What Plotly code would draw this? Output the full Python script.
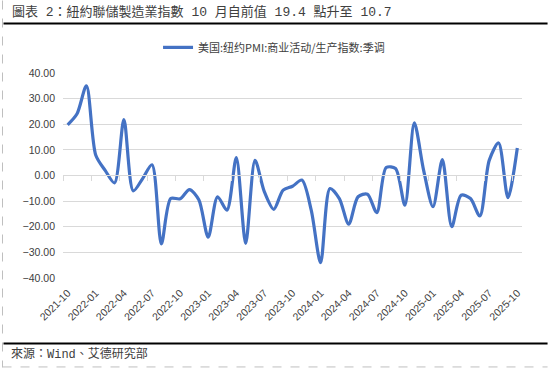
import plotly.graph_objects as go

months = ["2021-10", "2021-11", "2021-12",
          "2022-01", "2022-02", "2022-03", "2022-04", "2022-05", "2022-06",
          "2022-07", "2022-08", "2022-09", "2022-10", "2022-11", "2022-12",
          "2023-01", "2023-02", "2023-03", "2023-04", "2023-05", "2023-06",
          "2023-07", "2023-08", "2023-09", "2023-10", "2023-11", "2023-12",
          "2024-01", "2024-02", "2024-03", "2024-04", "2024-05", "2024-06",
          "2024-07", "2024-08", "2024-09", "2024-10", "2024-11", "2024-12",
          "2025-01", "2025-02", "2025-03", "2025-04", "2025-05", "2025-06",
          "2025-07", "2025-08", "2025-09", "2025-10"]
values = [19.8, 24.1, 35.0,
          7.9, 2.0, -2.9, 21.8, -6.0, -1.2,
          4.2, -26.7, -9.0, -9.1, -5.5, -9.5,
          -24.1, -8.3, -13.5, 7.0, -26.5, 5.9,
          -6.4, -13.2, -5.7, -4.2, -1.8, -13.5,
          -34.0, -5.1, -9.0, -19.0, -8.3, -7.3,
          -14.5, 3.1, 2.7, -11.6, 20.5, 2.0,
          -12.2, 6.2, -20.0, -7.7, -9.0, -15.8,
          5.9, 12.7, -8.6, 10.7]
series_name = "美国:纽约PMI:商业活动/生产指数:季调"
title_text = "圖表 2：紐約聯儲製造業指數 10 月自前值 19.4 點升至 10.7"
source_text = "來源：Wind、艾德研究部"
y_ticks = [40, 30, 20, 10, 0, -10, -20, -30, -40]

W, H = 548, 369
L, R, T, B = 62.6, 25.6, 72.7, 90.7
PW, PH = W - L - R, H - T - B

def px(x):
    return (x - L) / PW

def py(y):
    return 1 - (y - T) / PH

idx = list(range(len(months)))
label_idx = idx[::3]

fig = go.Figure()
fig.add_trace(go.Scatter(
    x=idx, y=values, mode="lines", name=series_name,
    line=dict(color="#4472C4", width=3.2, shape="spline", smoothing=0.8),
    hoverinfo="skip",
))
# invisible trace to carry the zero-line axis with boundary ticks
fig.add_trace(go.Scatter(x=[idx[0], idx[-1]], y=[0, 0], xaxis="x2", mode="lines",
                         line=dict(width=0), showlegend=False, hoverinfo="skip"))

font_main = "Liberation Sans, Arial, sans-serif"
font_cjk = "Noto Sans CJK TC, Noto Sans CJK SC, sans-serif"
font_doc = "Liberation Mono, Noto Sans CJK TC, monospace"

fig.update_layout(
    width=W, height=H,
    margin=dict(l=L, r=R, t=T, b=B, pad=0, autoexpand=False),
    paper_bgcolor="white", plot_bgcolor="white",
    showlegend=True,
    legend=dict(orientation="h", xref="paper", yref="paper",
                x=px(274), xanchor="center", y=py(47), yanchor="middle",
                font=dict(family=font_cjk, size=11, color="#404040"),
                bgcolor="rgba(0,0,0,0)", itemwidth=30),
    xaxis=dict(range=[-0.5, len(months) - 0.5], tickvals=label_idx,
               ticktext=[months[i] for i in label_idx], tickangle=-45,
               showgrid=False, zeroline=False, showline=False, ticks="",
               automargin=False, ticklabelstandoff=6,
               tickfont=dict(family=font_main, size=10.5, color="#404040")),
    xaxis2=dict(range=[-0.5, len(months) - 0.5], overlaying="x", anchor="free",
                position=py(175.3), side="bottom",
                tickvals=[i - 0.5 for i in label_idx], ticks="outside", ticklen=5,
                tickcolor="#d9d9d9", tickwidth=1, showticklabels=False,
                showline=True, linecolor="#d9d9d9", linewidth=1,
                showgrid=False, zeroline=False, automargin=False),
    yaxis=dict(range=[-40, 40], tickvals=y_ticks,
               ticktext=["%.2f" % v if v >= 0 else "\u2212%.2f" % (-v) for v in y_ticks],
               showgrid=True, gridcolor="#d9d9d9", gridwidth=1, zeroline=False,
               showline=False, ticks="", ticklabelstandoff=7, automargin=False,
               tickfont=dict(family=font_main, size=10.5, color="#404040")),
    shapes=[
        dict(type="line", xref="paper", yref="paper", x0=px(3), x1=px(548), y0=py(23), y1=py(23),
             line=dict(color="black", width=2)),
        dict(type="line", xref="paper", yref="paper", x0=px(3), x1=px(548), y0=py(344), y1=py(344),
             line=dict(color="black", width=2)),
        dict(type="line", xref="paper", yref="paper", x0=px(2), x1=px(2), y0=py(0), y1=py(368),
             line=dict(color="#bfbfbf", width=1, dash="dash")),
        dict(type="line", xref="paper", yref="paper", x0=px(2), x1=px(548), y0=py(367.5), y1=py(367.5),
             line=dict(color="#bfbfbf", width=1, dash="dash")),
    ],
    annotations=[
        dict(text=title_text, xref="paper", yref="paper", x=px(10), y=py(12),
             xanchor="left", yanchor="middle", showarrow=False,
             font=dict(family=font_doc, size=13, color="#404040")),
        dict(text=source_text, xref="paper", yref="paper", x=px(9), y=py(355),
             xanchor="left", yanchor="middle", showarrow=False,
             font=dict(family=font_doc, size=12, color="#404040")),
    ],
)

fig.write_html("out.html", config={"displayModeBar": False},
               post_script="document.body.style.margin='0';document.body.style.overflow='hidden';")
